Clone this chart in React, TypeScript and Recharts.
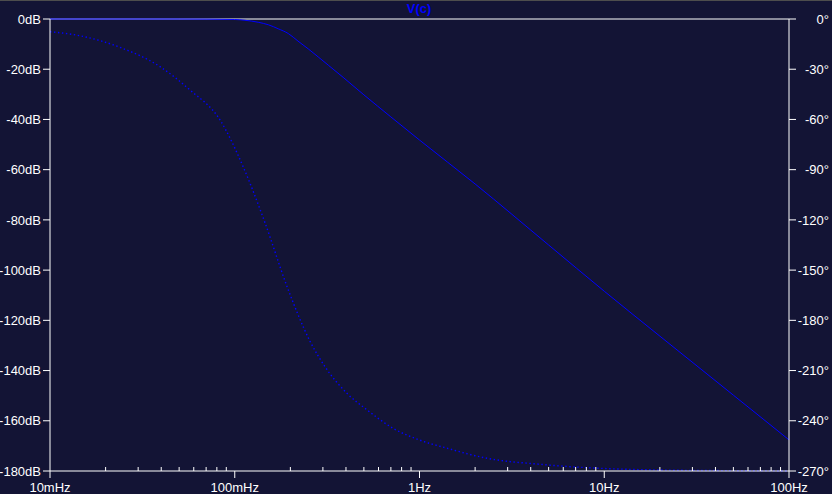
import React from "react";
import { LineChart, Line, XAxis, YAxis, ReferenceLine } from "recharts";

// magnitude of V(c)
const magFreq = [0.01, 0.05, 0.1, 0.1136, 0.134, 0.152, 0.172, 0.195, 0.22, 0.25, 0.283, 0.321, 0.39, 0.5, 0.7, 1, 2, 5, 10, 20, 50, 100];
const magDb = [0, 0, -0.2, -0.5, -1.3, -2.3, -3.9, -5.8, -8.8, -11.9, -15.1, -18.4, -23.5, -30.2, -39, -48.2, -65.7, -90, -108.4, -126.3, -149.8, -167.6];

// phase of V(c)
const phFreq = [0.01, 0.0145, 0.0239, 0.0394, 0.0572, 0.0832, 0.111, 0.146, 0.192, 0.256, 0.308, 0.405, 0.52, 0.72, 1.0, 1.41, 2.32, 4.49, 10, 20, 50, 100];
const phDeg = [-7.6, -10, -16.9, -28.5, -42.4, -60.3, -88.2, -121.9, -159.9, -192.7, -207.7, -223.6, -233.5, -244.5, -251.5, -256.4, -262.4, -266, -268.5, -269.4, -269.8, -270];

const decades = [0.01, 0.1, 1, 10, 100];
const decadeLabels = ["10mHz", "100mHz", "1Hz", "10Hz", "100Hz"];
const dbTicks = [0, -20, -40, -60, -80, -100, -120, -140, -160, -180];
const degTicks = [0, -30, -60, -90, -120, -150, -180, -210, -240, -270];

const BG = "#131435";
const FG = "#ffffff";
const TRACE = "#0000ff";
const FONT = "'Liberation Sans', Arial, sans-serif";

const magData = magFreq.map((f, i) => ({ f, db: magDb[i] }));
const phData = phFreq.map((f, i) => ({ f, deg: phDeg[i] }));

const xTicks: number[] = [];
decades.slice(0, 4).forEach((d) => {
  for (let k = 1; k <= 9; k++) xTicks.push(d * k);
});
xTicks.push(100);

function isMajor(v: number) {
  return decades.findIndex((d) => Math.abs(v / d - 1) < 1e-6);
}

function FreqTick(props: any) {
  const { x, y, payload } = props;
  const idx = isMajor(payload.value);
  if (idx < 0) {
    return <line x1={x} x2={x} y1={y} y2={y - 4} stroke={FG} />;
  }
  return (
    <g>
      <line x1={x} x2={x} y1={y} y2={y + 7} stroke={FG} />
      <text x={x} y={y + 21} textAnchor="middle" fill={FG} fontSize={13} fontFamily={FONT}>
        {decadeLabels[idx]}
      </text>
    </g>
  );
}

function DegTick(props: any) {
  const { x, y, payload } = props;
  return (
    <text x={x + 33} y={y} dy="0.355em" textAnchor="end" fill={FG} fontSize={13} fontFamily={FONT}>
      {`${payload.value}°`}
    </text>
  );
}

export default function App() {
  return (
    <div style={{ position: "fixed", left: 0, top: 0, width: 832, height: 494, background: BG }}>
      <div style={{ position: "absolute", left: 0, top: 0, width: 832, height: 1, background: "#4d4d4d" }} />
      <div
        style={{
          position: "absolute",
          left: 369,
          top: 1,
          width: 100,
          textAlign: "center",
          color: TRACE,
          font: `bold 13px ${FONT}`,
        }}
      >
        V(c)
      </div>
      <LineChart width={832} height={494} margin={{ top: 19, right: 0, bottom: 0, left: 0 }}>
        <XAxis
          dataKey="f"
          type="number"
          scale="log"
          domain={[0.01, 100]}
          allowDataOverflow
          ticks={xTicks}
          interval={0}
          tick={<FreqTick />}
          tickLine={false}
          tickSize={0}
          tickMargin={0}
          height={23}
          axisLine={{ stroke: FG }}
        />
        <YAxis
          yAxisId="db"
          domain={[-180, 0]}
          ticks={dbTicks}
          interval={0}
          width={50}
          tickSize={7}
          tickMargin={2}
          tickFormatter={(v) => `${v}dB`}
          tick={{ fill: FG, fontSize: 13, fontFamily: FONT }}
          axisLine={{ stroke: FG }}
          tickLine={{ stroke: FG }}
        />
        <YAxis
          yAxisId="deg"
          orientation="right"
          domain={[-270, 0]}
          ticks={degTicks}
          interval={0}
          width={43}
          tickSize={7}
          tickMargin={0}
          tick={<DegTick />}
          axisLine={{ stroke: FG }}
          tickLine={{ stroke: FG }}
        />
        <ReferenceLine yAxisId="db" y={0} stroke={FG} />
        <Line
          data={phData}
          dataKey="deg"
          yAxisId="deg"
          type="monotone"
          stroke={TRACE}
          strokeWidth={1.4}
          strokeDasharray="1.4 2.6"
          dot={false}
          activeDot={false}
          isAnimationActive={false}
        />
        <Line
          data={magData}
          dataKey="db"
          yAxisId="db"
          type="monotone"
          stroke={TRACE}
          strokeWidth={1}
          dot={false}
          activeDot={false}
          isAnimationActive={false}
        />
      </LineChart>
    </div>
  );
}
